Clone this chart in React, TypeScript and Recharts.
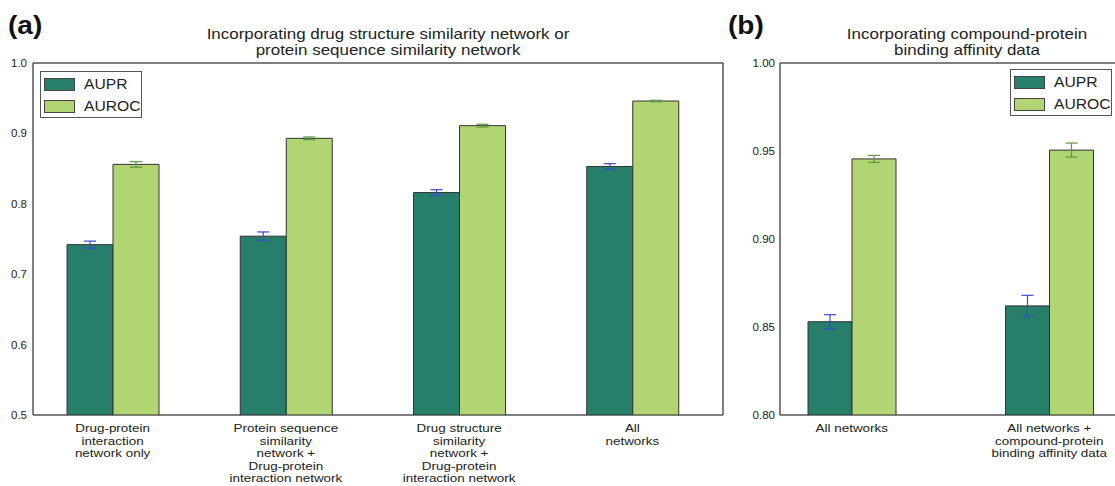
import React from "react";
import { BarChart, Bar, XAxis, YAxis, CartesianGrid, ErrorBar, Legend } from "recharts";

// ---------- Data ----------
const categoriesA = [
  "Drug-protein\ninteraction\nnetwork only",
  "Protein sequence\nsimilarity\nnetwork +\nDrug-protein\ninteraction network",
  "Drug structure\nsimilarity\nnetwork +\nDrug-protein\ninteraction network",
  "All\nnetworks",
];
const auprA = [0.742, 0.754, 0.816, 0.853];
const auprErrA = [0.005, 0.006, 0.004, 0.004];
const aurocA = [0.856, 0.893, 0.911, 0.946];
const aurocErrA = [0.004, 0.002, 0.002, 0.001];

const categoriesB = [
  "All networks",
  "All networks +\ncompound-protein\nbinding affinity data",
];
const auprB = [0.853, 0.862];
const auprErrB = [0.004, 0.006];
const aurocB = [0.9455, 0.9505];
const aurocErrB = [0.002, 0.004];

const ticksA = [0.5, 0.6, 0.7, 0.8, 0.9, 1.0];
const ticksB = [0.8, 0.85, 0.9, 0.95, 1.0];

const seriesNames = ["AUPR", "AUROC"];
const titleA = ["Incorporating drug structure similarity network or", "protein sequence similarity network"];
const titleB = ["Incorporating compound-protein", "binding affinity data"];

// ---------- Styles ----------
const FONT = '"Liberation Sans", Arial, Helvetica, sans-serif';
const DARK = "#277e6a";
const LIGHT = "#b1d572";
const FRAME = "#555";
const TEXT = "#222";

const dataA = categoriesA.map((c, i) => ({
  name: c,
  aupr: auprA[i],
  auprErr: auprErrA[i],
  auroc: aurocA[i],
  aurocErr: aurocErrA[i],
}));
const dataB = categoriesB.map((c, i) => ({
  name: c,
  aupr: auprB[i],
  auprErr: auprErrB[i],
  auroc: aurocB[i],
  aurocErr: aurocErrB[i],
}));

const XTick = (props: any) => {
  const { x, y, payload } = props;
  const lines = String(payload.value).split("\n");
  return (
    <g transform={`translate(${x},${y}) scale(1.17,1)`}>
      <text x={0} y={0} textAnchor="middle" fontSize={11.5} fill={TEXT} fontFamily={FONT}>
        {lines.map((l, i) => (
          <tspan key={i} x={0} dy={i === 0 ? 17 : 12.6}>
            {l}
          </tspan>
        ))}
      </text>
    </g>
  );
};

const YTick = (props: any) => {
  const { x, y, payload, digits } = props;
  return (
    <text x={x} y={y} dy={4} textAnchor="end" fontSize={11.5} fill={TEXT} fontFamily={FONT}>
      {Number(payload.value).toFixed(digits)}
    </text>
  );
};

const LegendBox = () => (
  <div
    style={{
      width: 100,
      height: 45,
      border: "1px solid #555",
      background: "#fff",
      fontFamily: FONT,
      fontSize: 14.5,
      color: TEXT,
      boxSizing: "content-box",
    }}
  >
    {seriesNames.map((n, i) => (
      <div key={n} style={{ display: "flex", alignItems: "center", height: 22, marginTop: i === 0 ? 1 : 0 }}>
        <div
          style={{
            width: 29,
            height: 11,
            marginLeft: 3,
            marginRight: 9,
            background: i === 0 ? DARK : LIGHT,
            border: "1px solid #444",
          }}
        />
        <span style={{ display: "inline-block", transform: "scaleX(1.08)", transformOrigin: "left center" }}>{n}</span>
      </div>
    ))}
  </div>
);

const frameH = ({ offset }: any) => [offset.top, offset.top + offset.height];
const frameV = ({ offset }: any) => [offset.left, offset.left + offset.width];

const Title = ({ lines, center }: { lines: string[]; center: number }) => (
  <div
    style={{
      position: "absolute",
      left: center - 250,
      width: 500,
      top: 26,
      textAlign: "center",
      fontFamily: FONT,
      fontSize: 15,
      lineHeight: "16px",
      color: TEXT,
      transform: "scaleX(1.13)",
      transformOrigin: "center",
    }}
  >
    {lines.map((l) => (
      <div key={l}>{l}</div>
    ))}
  </div>
);

const PanelLabel = ({ text, left }: { text: string; left: number }) => (
  <div
    style={{
      position: "absolute",
      left,
      top: 10,
      fontSize: 25,
      fontWeight: "bold",
      lineHeight: "30px",
      color: "#111",
      transform: "scaleX(1.12)",
      transformOrigin: "left center",
    }}
  >
    {text}
  </div>
);

export default function App() {
  return (
    <div
      style={{
        position: "absolute",
        left: 0,
        top: 0,
        width: 1115,
        height: 486,
        overflow: "hidden",
        background: "#fff",
        fontFamily: FONT,
      }}
    >
      <PanelLabel text="(a)" left={8} />
      <PanelLabel text="(b)" left={728} />
      <Title lines={titleA} center={388} />
      <Title lines={titleB} center={967} />

      <div style={{ position: "absolute", left: 0, top: 0 }}>
        <BarChart
          width={740}
          height={486}
          data={dataA}
          margin={{ top: 63, right: 17, bottom: 6, left: 3 }}
          barGap={0}
          barSize={46}
        >
          <CartesianGrid
            stroke={FRAME}
            strokeWidth={1.5}
            strokeDasharray="0"
            horizontalCoordinatesGenerator={frameH}
            verticalCoordinatesGenerator={frameV}
          />
          <XAxis
            dataKey="name"
            interval={0}
            height={65}
            tickLine={false}
            axisLine={false}
            tickSize={0}
            tickMargin={0}
            tick={<XTick />}
            padding={{ left: -7, right: 4 }}
          />
          <YAxis
            width={30}
            domain={[0.5, 1.0]}
            ticks={ticksA}
            tickLine={false}
            axisLine={false}
            tickSize={0}
            tickMargin={6}
            tick={<YTick digits={1} />}
            allowDataOverflow
          />
          <Legend
            layout="horizontal"
            verticalAlign="middle"
            align="center"
            content={<LegendBox />}
            wrapperStyle={{ position: "absolute", left: 40, top: 71, width: "auto", height: "auto" }}
          />
          <Bar dataKey="aupr" name="AUPR" fill={DARK} stroke="#333" strokeWidth={1} isAnimationActive={false}>
            <ErrorBar dataKey="auprErr" width={6} stroke="#3b4cc8" strokeWidth={1.2} />
          </Bar>
          <Bar dataKey="auroc" name="AUROC" fill={LIGHT} stroke="#333" strokeWidth={1} isAnimationActive={false}>
            <ErrorBar dataKey="aurocErr" width={6} stroke="#5c9a48" strokeWidth={1.2} />
          </Bar>
        </BarChart>
      </div>

      <div style={{ position: "absolute", left: 740, top: 0 }}>
        <BarChart
          width={420}
          height={486}
          data={dataB}
          margin={{ top: 63, right: 38, bottom: 6, left: 4 }}
          barGap={0}
          barSize={44}
        >
          <CartesianGrid
            stroke={FRAME}
            strokeWidth={1.5}
            strokeDasharray="0"
            horizontalCoordinatesGenerator={frameH}
            verticalCoordinatesGenerator={frameV}
          />
          <XAxis
            dataKey="name"
            interval={0}
            height={65}
            tickLine={false}
            axisLine={false}
            tickSize={0}
            tickMargin={0}
            tick={<XTick />}
            padding={{ left: -27, right: -26 }}
          />
          <YAxis
            width={36}
            domain={[0.8, 1.0]}
            ticks={ticksB}
            tickLine={false}
            axisLine={false}
            tickSize={0}
            tickMargin={5}
            tick={<YTick digits={2} />}
            allowDataOverflow
          />
          <Legend
            layout="horizontal"
            verticalAlign="middle"
            align="center"
            content={<LegendBox />}
            wrapperStyle={{ position: "absolute", left: 270, top: 69, width: "auto", height: "auto" }}
          />
          <Bar dataKey="aupr" name="AUPR" fill={DARK} stroke="#333" strokeWidth={1} isAnimationActive={false}>
            <ErrorBar dataKey="auprErr" width={6} stroke="#3b4cc8" strokeWidth={1.2} />
          </Bar>
          <Bar dataKey="auroc" name="AUROC" fill={LIGHT} stroke="#333" strokeWidth={1} isAnimationActive={false}>
            <ErrorBar dataKey="aurocErr" width={6} stroke="#5c9a48" strokeWidth={1.2} />
          </Bar>
        </BarChart>
      </div>
    </div>
  );
}
